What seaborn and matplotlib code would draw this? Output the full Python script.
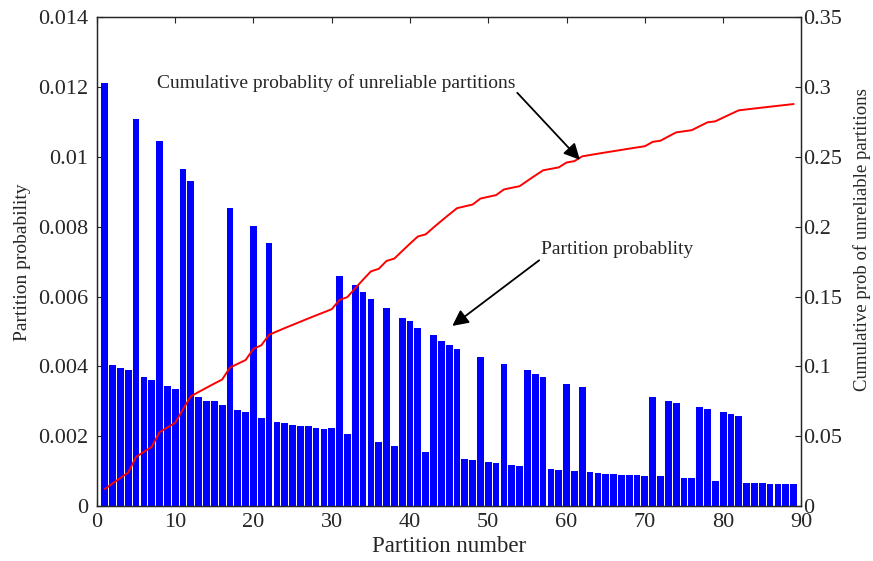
import numpy as np
import matplotlib
matplotlib.use("Agg")
import matplotlib.pyplot as plt
import seaborn as sns

# --- Partition probabilities ---
partitions = list(range(1, 90))
probs = [
    0.01212, 0.00403, 0.00395, 0.00391, 0.01109, 0.00369, 0.00360, 0.01046, 0.00344, 0.00334,
    0.00966, 0.00931, 0.00312, 0.00300, 0.00300, 0.00289, 0.00855, 0.00274, 0.00269, 0.00801,
    0.00252, 0.00755, 0.00241, 0.00237, 0.00231, 0.00229, 0.00229, 0.00223, 0.00220, 0.00223,
    0.00660, 0.00206, 0.00632, 0.00614, 0.00594, 0.00183, 0.00566, 0.00171, 0.00540, 0.00529,
    0.00511, 0.00154, 0.00489, 0.00474, 0.00460, 0.00449, 0.00134, 0.00131, 0.00426, 0.00126,
    0.00123, 0.00406, 0.00117, 0.00114, 0.00389, 0.00377, 0.00371, 0.00106, 0.00103, 0.00351,
    0.00100, 0.00340, 0.00097, 0.00094, 0.00091, 0.00091, 0.00089, 0.00089, 0.00089, 0.00086,
    0.00311, 0.00086, 0.00300, 0.00294, 0.00080, 0.00080, 0.00283, 0.00277, 0.00071, 0.00269,
    0.00263, 0.00257, 0.00066, 0.00066, 0.00066, 0.00063, 0.00063, 0.00063, 0.00063,
]
# cumulative probability of unreliable partitions
cum_probs = np.cumsum(probs)

sns.set_style("ticks")
plt.rcParams["font.family"] = ["Liberation Serif", "DejaVu Serif"]
plt.rcParams["xtick.direction"] = "in"
plt.rcParams["ytick.direction"] = "in"

fig = plt.figure(figsize=(8.73, 5.61), dpi=100)
ax = fig.add_axes([0.111, 0.098, 0.807, 0.871])

sns.barplot(x=partitions, y=probs, native_scale=True, color="#0000ff",
            saturation=1, width=0.86, edgecolor="none", ax=ax)
ax.set_xlim(0, 90)
ax.set_ylim(0, 0.014)
ax.set_xticks(range(0, 91, 10))
ax.set_xticklabels([str(v) for v in range(0, 91, 10)])
ax.set_yticks(np.arange(0, 0.0141, 0.002))
ax.set_yticklabels(["0", "0.002", "0.004", "0.006", "0.008", "0.01", "0.012", "0.014"])
ax.tick_params(axis="both", labelsize=16, length=4, width=0.8)
ax.tick_params(axis="x", top=True, pad=5)
ax.tick_params(axis="y", pad=6)
ax.set_xlabel("Partition number", fontsize=16.5)
ax.xaxis.set_label_coords(0.5, -0.062)
ax.set_ylabel("Partition probability", fontsize=14)
ax.yaxis.set_label_coords(-0.094, 0.5)
for s in ax.spines.values():
    s.set_linewidth(1.0)

ax2 = ax.twinx()
sns.lineplot(x=partitions, y=cum_probs, color="red", linewidth=1.4, ax=ax2)
ax2.set_ylim(0, 0.35)
ax2.set_yticks(np.arange(0, 0.351, 0.05))
ax2.set_yticklabels(["0", "0.05", "0.1", "0.15", "0.2", "0.25", "0.3", "0.35"])
ax2.tick_params(axis="y", labelsize=16, length=4, width=0.8, pad=1)
ax2.set_ylabel("Cumulative prob of unreliable partitions", fontsize=13.5)
ax2.yaxis.set_label_coords(1.074, 0.546)

# --- Annotations ---
ax2.text(7.7, 0.303, "Cumulative probablity of unreliable partitions",
         fontsize=14, ha="left", va="center")
ax2.annotate("", xy=(61.7, 0.248), xytext=(53.7, 0.296),
             arrowprops=dict(arrowstyle="-|>", color="black", lw=1.3,
                             mutation_scale=24, shrinkA=0, shrinkB=0))
ax2.text(56.7, 0.184, "Partition probablity",
         fontsize=14, ha="left", va="center")
ax2.annotate("", xy=(45.4, 0.129), xytext=(56.5, 0.176),
             arrowprops=dict(arrowstyle="-|>", color="black", lw=1.3,
                             mutation_scale=24, shrinkA=0, shrinkB=0))

fig.savefig("out.png", dpi=100)
